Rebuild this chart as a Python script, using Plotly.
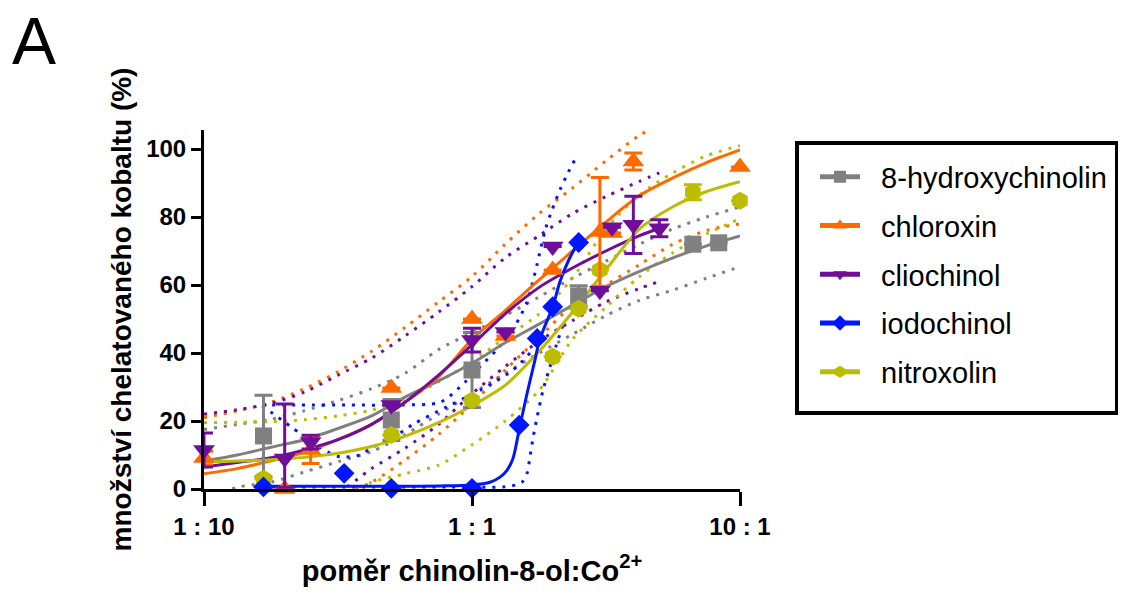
import plotly.graph_objects as go

# ---------------- data ----------------
SERIES = ["8-hydroxychinolin", "chloroxin", "cliochinol", "iodochinol", "nitroxolin"]
COLORS = ["#808080", "#FF6A00", "#6E0E9A", "#0016FF", "#BDBD00"]
SYMBOLS = ["square", "triangle-up", "triangle-down", "diamond", "hexagon"]
SIZES = [17, 19, 19, 16, 18]

TICK_VALS = [0.1, 1, 10]
TICK_TEXT = ["1 : 10", "1 : 1", "10 : 1"]

# measured points (ratio ligand:Co, % chelated cobalt) with SD
HQ_X = [0.1667, 0.5, 1.0, 2.5, 6.67, 8.33]
HQ_Y = [15.6, 20.3, 35.0, 56.8, 72.0, 72.4]
HQ_E = [12, 6, 11, 3, None, None]

CX_X = [0.1, 0.2, 0.25, 0.5, 1.0, 1.333, 2.0, 3.0, 3.333, 4.0, 10.0]
CX_Y = [9.1, 0.0, 11.5, 29.7, 50.0, 45.0, 64.4, 75.6, 75.3, 96.3, 94.7]
CX_E = [2, None, 4, None, None, None, None, 16, None, 2.5, None]

CQ_X = [0.1, 0.2, 0.25, 0.5, 1.0, 1.333, 2.0, 3.0, 3.333, 4.0, 5.0]
CQ_Y = [11.5, 9.0, 13.8, 24.7, 43.8, 46.2, 71.3, 58.3, 77.0, 77.7, 76.7]
CQ_EP = [5, 16, 2, None, 3.5, None, None, None, None, 8.4, 2.5]
CQ_EM = [5, 8.5, 2, None, 3.5, None, None, None, None, 8.4, 2.5]

IQ_X = [0.1667, 0.3333, 0.5, 1.0, 1.5, 1.75, 2.0, 2.5]
IQ_Y = [0.6, 4.6, 0.2, 0.2, 18.8, 44.3, 53.6, 72.5]

NX_X = [0.1667, 0.5, 1.0, 2.0, 2.5, 3.0, 6.67, 10.0]
NX_Y = [3.0, 15.9, 26.0, 38.9, 53.0, 64.4, 87.3, 84.8]
NX_E = [None, None, None, None, None, None, 2.2, None]

# fitted curves
FIT_X = [0.1, 0.133, 0.178, 0.237, 0.316, 0.422, 0.562, 0.75, 1.0, 1.33, 1.78,
         2.37, 3.16, 4.22, 5.62, 7.5, 10.0]
HQ_FIT = [8.2, 10.0, 12.3, 14.5, 17.8, 21.5, 27.0, 31.8, 37.0, 43.0, 48.5,
          54.0, 59.5, 64.0, 68.0, 71.5, 74.4]
CX_FIT = [4.5, 6.0, 8.3, 10.8, 14.5, 19.0, 25.5, 33.0, 44.0, 52.5, 61.5,
          70.0, 78.5, 86.3, 91.5, 96.0, 99.7]
NX_FIT = [8.0, 8.2, 8.6, 9.3, 10.5, 12.5, 15.5, 19.5, 24.5, 30.5, 40.5,
          52.0, 64.5, 76.5, 83.0, 87.5, 90.4]
CQ_FIT_X = [0.1, 0.133, 0.178, 0.237, 0.316, 0.422, 0.562, 0.75, 1.0, 1.33, 1.78,
            2.37, 3.16, 4.22, 5.0]
CQ_FIT = [6.5, 7.8, 9.2, 11.5, 14.5, 19.0, 25.5, 33.5, 42.4, 51.5, 59.3,
          65.0, 70.0, 74.5, 76.7]
IQ_FIT_X = [0.1667, 0.322, 0.539, 0.76, 1.0, 1.167, 1.272, 1.35, 1.422, 1.5,
            1.604, 1.718, 1.79, 2.0, 2.13, 2.3, 2.5]
IQ_FIT = [0.8, 0.8, 0.8, 0.9, 1.2, 2.0, 3.5, 5.5, 9.0, 17.5, 28.0, 38.0, 44.0,
          53.6, 61.0, 67.5, 72.7]

# 95% confidence bands (dotted)
HQ_UP = [17.5, 19.0, 20.5, 23.0, 26.0, 29.5, 34.0, 41.0, 46.0, 51.0, 56.5,
         62.0, 67.0, 72.0, 76.5, 80.0, 83.0]
HQ_LO = [-3.0, 0.5, 2.0, 5.0, 8.0, 11.0, 16.0, 22.0, 28.0, 34.0, 40.0,
         45.5, 51.0, 55.5, 58.5, 62.0, 65.4]
CX_UP = [21.0, 23.0, 25.5, 29.5, 34.5, 40.5, 47.5, 55.0, 62.5, 72.0, 81.0,
         88.5, 96.5, 104.0, 109.0, 113.0, 116.0]
CX_LO = [-15.0, -11.0, -8.0, -5.0, -2.0, 2.0, 8.5, 16.0, 25.0, 35.0, 44.5,
         54.0, 60.0, 66.0, 72.0, 76.0, 78.0]
CQ_UP = [22.0, 23.3, 25.2, 28.5, 33.5, 38.5, 45.0, 52.0, 59.5, 68.0, 74.5,
         81.0, 86.0, 90.5, 93.0]
CQ_LO = [-12.0, -9.0, -6.0, -3.5, -1.0, 6.0, 12.0, 19.0, 28.0, 36.0, 43.5,
         49.5, 55.0, 59.0, 61.0]
NX_UP = [19.5, 19.6, 19.8, 20.4, 21.5, 23.2, 26.5, 31.5, 37.5, 44.5, 51.5,
         62.0, 76.5, 86.5, 93.0, 98.0, 101.0]
NX_LO = [-10.0, -8.0, -6.0, -4.0, -2.0, 2.0, 4.5, 7.0, 13.0, 20.0, 29.0,
         44.0, 53.5, 62.5, 69.5, 75.0, 79.5]
IQ_B1_X = [0.1646, 0.228, 0.351, 0.5385, 0.76, 0.902, 1.071, 1.24, 1.422, 1.604,
           1.748, 1.873, 1.988, 2.13, 2.281, 2.465]
IQ_B1 = [24.7, 24.7, 24.7, 24.7, 25.5, 30.0, 36.0, 41.0, 47.0, 55.0, 66.0, 76.0,
         82.0, 88.0, 93.0, 98.0]
IQ_B2_X = [0.165, 0.228, 0.2877, 0.3217, 0.382, 0.427, 0.4945, 0.6024, 0.807,
           1.071, 1.422, 1.646]
IQ_B2 = [24.5, 16.4, 11.0, 9.5, 10.0, 12.4, 14.5, 19.0, 24.2, 29.0, 35.0, 40.0]
IQ_B3_X = [0.165, 0.351, 0.828, 1.386, 1.537, 1.604, 1.646, 1.689, 1.748, 1.84,
           1.938, 2.058, 2.223]
IQ_B3 = [0.6, 0.6, 0.6, 0.8, 2.0, 4.6, 9.5, 15.0, 21.0, 29.0, 35.0, 42.0, 50.0]

# ---------------- figure ----------------
FONT = "Liberation Sans, Arial, Helvetica, sans-serif"
fig = go.Figure()

DOT = "3px,7px"
bands = [
    (FIT_X, HQ_UP, 0), (FIT_X, HQ_LO, 0),
    (FIT_X, CX_UP, 1), (FIT_X, CX_LO, 1),
    (CQ_FIT_X, CQ_UP, 2), (CQ_FIT_X, CQ_LO, 2),
    (IQ_B1_X, IQ_B1, 3), (IQ_B2_X, IQ_B2, 3), (IQ_B3_X, IQ_B3, 3),
    (FIT_X, NX_UP, 4), (FIT_X, NX_LO, 4),
]
for bx, by, i in bands:
    fig.add_trace(go.Scatter(x=bx, y=by, mode="lines", showlegend=False, hoverinfo="skip",
                             line=dict(color=COLORS[i], width=3, dash=DOT, shape="spline", smoothing=0.8)))

fits = [(FIT_X, HQ_FIT, 0), (FIT_X, CX_FIT, 1), (CQ_FIT_X, CQ_FIT, 2),
        (FIT_X, NX_FIT, 4), (IQ_FIT_X, IQ_FIT, 3)]
for fx, fy, i in fits:
    fig.add_trace(go.Scatter(x=fx, y=fy, mode="lines", showlegend=False, hoverinfo="skip",
                             line=dict(color=COLORS[i], width=3, shape="spline", smoothing=0.8)))


def err(plus, minus=None):
    return dict(type="data", symmetric=minus is None, array=plus,
                arrayminus=minus if minus is not None else None,
                thickness=3, width=9)


points = [
    (HQ_X, HQ_Y, err(HQ_E), 0),
    (NX_X, NX_Y, err(NX_E), 4),
    (CX_X, CX_Y, err(CX_E), 1),
    (CQ_X, CQ_Y, err(CQ_EP, CQ_EM), 2),
    (IQ_X, IQ_Y, None, 3),
]
for px_, py_, e, i in points:
    ed = dict(e, color=COLORS[i]) if e else None
    fig.add_trace(go.Scatter(x=px_, y=py_, mode="markers", showlegend=False, cliponaxis=False,
                             marker=dict(symbol=SYMBOLS[i], size=SIZES[i], color=COLORS[i], line=dict(width=0)),
                             error_y=ed))

# legend entries
NBSP = "\u00a0\u00a0"
for i, name in enumerate(SERIES):
    fig.add_trace(go.Scatter(x=[None], y=[None], mode="lines+markers", name=NBSP + name, legendgroup=name,
                             line=dict(color=COLORS[i], width=3),
                             marker=dict(symbol=SYMBOLS[i], size=12, color=COLORS[i])))

# page offset: the browser page has an 8px body margin
OFF = 8
W, H = 1126 - OFF, 593 - OFF
L, R, T, B = 204 - OFF, 740 - OFF, 130 - OFF, 489 - OFF


def px2paper_x(p):
    return (p - OFF - L) / (R - L)


def px2paper_y(p):
    return (B - (p - OFF)) / (B - T)


Y_TOP = (B - T) / 3.4

fig.update_layout(
    width=W, height=H,
    margin=dict(l=L, r=W - R, t=T, b=H - B, pad=0),
    paper_bgcolor="white", plot_bgcolor="white",
    font=dict(family=FONT, color="black"),
    showlegend=True,
    legend=dict(x=px2paper_x(815), y=px2paper_y(151.5), xanchor="left", yanchor="top",
                font=dict(size=29, family=FONT, color="black"), bgcolor="rgba(0,0,0,0)",
                borderwidth=0, tracegroupgap=8, itemwidth=40, itemsizing="constant"),
    xaxis=dict(type="log", range=[-1, 1], tickvals=TICK_VALS, ticktext=TICK_TEXT,
               showgrid=False, zeroline=False, showline=True, linecolor="black", linewidth=3,
               ticks="outside", ticklen=14, tickwidth=3, tickcolor="black",
               tickfont=dict(size=24, family=FONT, weight="bold", color="black"),
               title=dict(text="poměr chinolin-8-ol:Co<sup>2+</sup>", standoff=22,
                          font=dict(size=29, family=FONT, weight="bold", color="black"))),
    yaxis=dict(range=[0, Y_TOP], tickvals=[0, 20, 40, 60, 80, 100],
               showgrid=False, zeroline=False, showline=True, linecolor="black", linewidth=3,
               ticks="outside", ticklen=10, tickwidth=3, tickcolor="black",
               tickfont=dict(size=24, family=FONT, weight="bold", color="black"),
               title=dict(text="množství chelatovaného kobaltu (%)", standoff=7,
                          font=dict(size=28, family=FONT, weight="bold", color="black"))),
    shapes=[dict(type="rect", xref="paper", yref="paper",
                 x0=px2paper_x(797), x1=px2paper_x(1117), y0=px2paper_y(413), y1=px2paper_y(143),
                 line=dict(color="black", width=4), fillcolor="rgba(0,0,0,0)")],
    annotations=[dict(text="A", xref="paper", yref="paper", x=px2paper_x(10), y=px2paper_y(41),
                      xanchor="left", yanchor="middle", showarrow=False,
                      font=dict(size=66, family=FONT, color="black"))],
)

fig.write_html("out.html")
